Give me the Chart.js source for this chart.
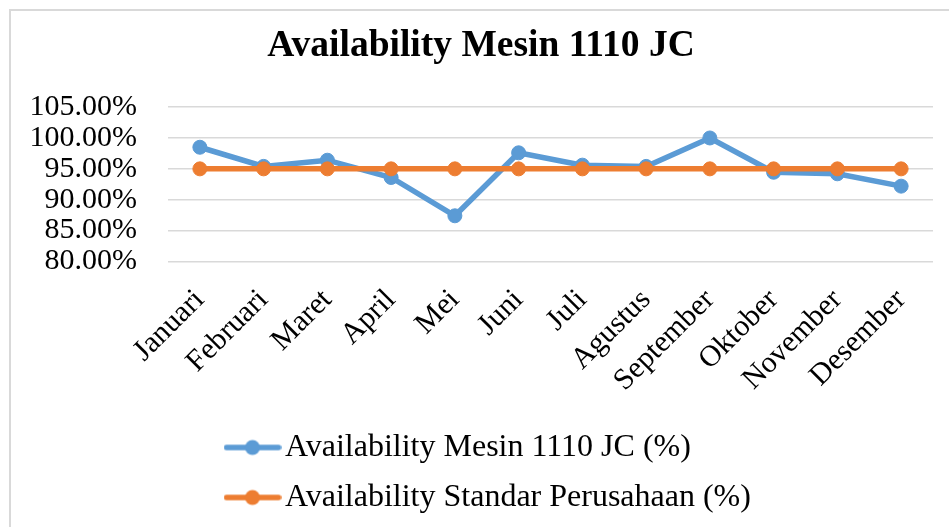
<!DOCTYPE html>
<html>
<head>
<meta charset="utf-8">
<script src="https://cdn.jsdelivr.net/npm/chart.js@4.4.1/dist/chart.umd.min.js"></script>
<style>
  html, body { margin: 0; padding: 0; background: #ffffff; overflow: hidden; width: 949px; height: 527px; }
  #wrap { position: absolute; left: 9px; top: 9px; width: 952px; height: 530px; }
  #frame { position: absolute; left: 9px; top: 9px; width: 960px; height: 560px; border: 2px solid #d9d9d9; box-sizing: border-box; pointer-events: none; }
  canvas { display: block; }
</style>
</head>
<body>
<div id="wrap"><canvas id="c" width="952" height="530"></canvas></div>
<div id="frame"></div>
<script>
const chartTitle = 'Availability Mesin 1110 JC';
const months = ['Januari', 'Februari', 'Maret', 'April', 'Mei', 'Juni', 'Juli', 'Agustus', 'September', 'Oktober', 'November', 'Desember'];
const seriesNames = ['Availability Mesin 1110 JC (%)', 'Availability Standar Perusahaan (%)'];
const availabilityMesin = [98.5, 95.4, 96.4, 93.6, 87.4, 97.6, 95.6, 95.4, 100.0, 94.45, 94.2, 92.2];
const availabilityStandar = [95, 95, 95, 95, 95, 95, 95, 95, 95, 95, 95, 95];
const yTicks = [80, 85, 90, 95, 100, 105];

const BLUE = '#5B9BD5';
const ORANGE = '#ED7D31';
const FONT = "'Liberation Serif', 'Times New Roman', serif";

function legendMarker(color) {
  const c = document.createElement('canvas');
  c.width = 58; c.height = 18;
  const g = c.getContext('2d');
  g.strokeStyle = color;
  g.lineWidth = 5.5;
  g.lineCap = 'round';
  g.beginPath(); g.moveTo(3, 9); g.lineTo(55, 9); g.stroke();
  g.fillStyle = color;
  g.beginPath(); g.arc(29, 9, 7.5, 0, Math.PI * 2); g.fill();
  return c;
}
const markers = [legendMarker(BLUE), legendMarker(ORANGE)];

const legendShift = {
  id: 'legendShift',
  beforeDraw(chart) {
    const lg = chart.legend;
    if (lg) { lg.left = 209; lg.right = 952; }
  }
};

new Chart(document.getElementById('c'), {
  type: 'line',
  data: {
    labels: months,
    datasets: [
      {
        label: seriesNames[0],
        data: availabilityMesin,
        borderColor: BLUE,
        backgroundColor: BLUE,
        borderWidth: 5.5,
        pointRadius: 7,
        pointBorderWidth: 1,
        pointBackgroundColor: BLUE,
        pointBorderColor: BLUE,
        tension: 0,
        order: 1
      },
      {
        label: seriesNames[1],
        data: availabilityStandar,
        borderColor: ORANGE,
        backgroundColor: ORANGE,
        borderWidth: 5.5,
        pointRadius: 7,
        pointBorderWidth: 1,
        pointBackgroundColor: ORANGE,
        pointBorderColor: ORANGE,
        tension: 0,
        order: 0
      }
    ]
  },
  options: {
    responsive: false,
    animation: false,
    devicePixelRatio: 1,
    layout: { padding: { left: 20, right: 28, top: 0, bottom: 15.5 } },
    plugins: {
      title: {
        display: true,
        text: chartTitle,
        color: '#000000',
        font: { family: FONT, size: 37.5, weight: 'bold', lineHeight: 1.2 },
        padding: { top: 14.5, bottom: 38.6 }
      },
      legend: {
        display: true,
        position: 'bottom',
        align: 'start',
        labels: {
          color: '#000000',
          font: { family: FONT, size: 32 },
          usePointStyle: true,
          pointStyleWidth: 33,
          padding: 18,
          sort: (a, b) => a.datasetIndex - b.datasetIndex,
          generateLabels(chart) {
            return chart.data.datasets.map((ds, i) => ({
              text: ds.label,
              fillStyle: ds.borderColor,
              strokeStyle: ds.borderColor,
              lineWidth: 0,
              pointStyle: markers[i],
              hidden: false,
              datasetIndex: i,
              fontColor: '#000000'
            }));
          }
        }
      },
      tooltip: { enabled: false }
    },
    scales: {
      x: {
        offset: true,
        grid: { display: false, drawTicks: false },
        border: { display: false },
        ticks: {
          color: '#000000',
          font: { family: FONT, size: 30 },
          maxRotation: 45,
          minRotation: 45,
          padding: 21,
          autoSkip: false
        },
        afterFit(scale) { scale.height = 152; }
      },
      y: {
        min: yTicks[0],
        max: yTicks[yTicks.length - 1],
        afterBuildTicks(scale) { scale.ticks = yTicks.map(v => ({ value: v })); },
        grid: { color: '#d9d9d9', lineWidth: 1.5, drawTicks: false },
        border: { display: false },
        ticks: {
          color: '#000000',
          font: { family: FONT, size: 30 },
          padding: 31,
          autoSkip: false,
          callback: (v) => Number(v).toFixed(2) + '%'
        },
        afterFit(scale) { scale.width = 139; }
      }
    }
  },
  plugins: [legendShift]
});
</script>
</body>
</html>
